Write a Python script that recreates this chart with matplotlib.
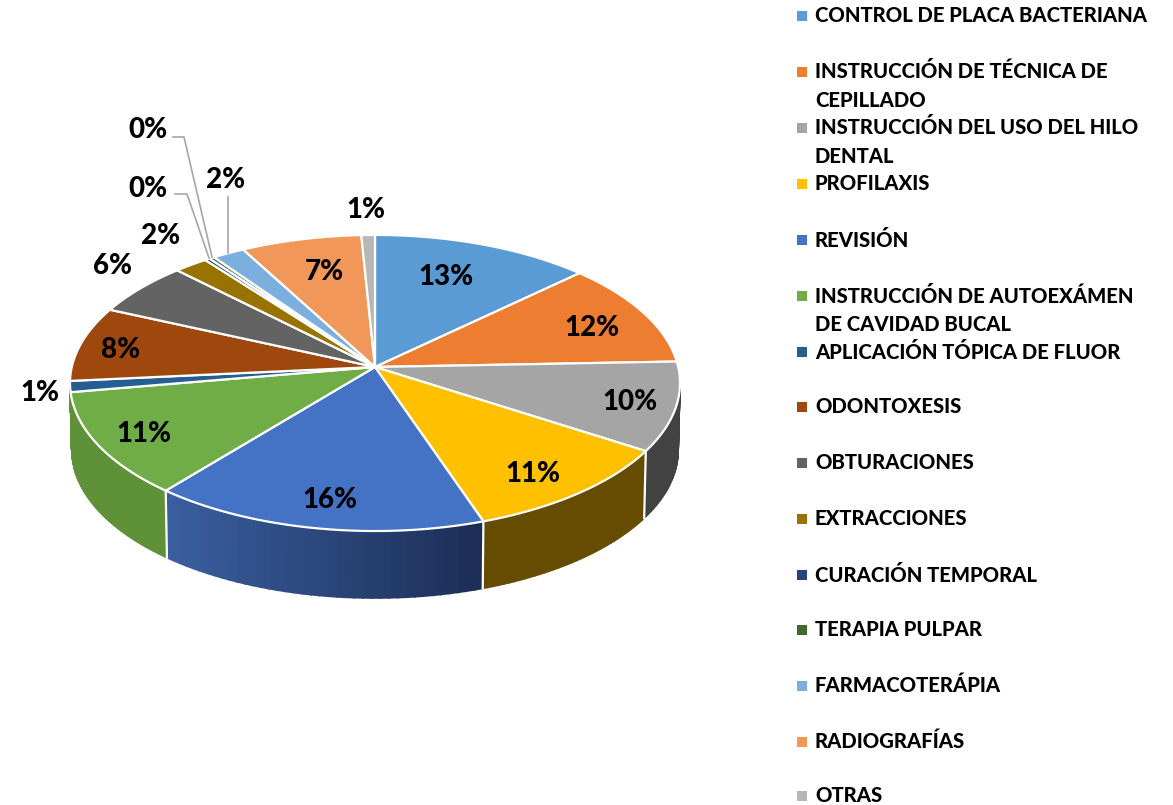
import numpy as np
import matplotlib
matplotlib.use("Agg")
import matplotlib.pyplot as plt
from matplotlib.colors import to_rgb

categories = ["CONTROL DE PLACA BACTERIANA", "INSTRUCCIÓN DE TÉCNICA DE\nCEPILLADO",
              "INSTRUCCIÓN DEL USO DEL HILO\nDENTAL", "PROFILAXIS", "REVISIÓN",
              "INSTRUCCIÓN DE AUTOEXÁMEN\nDE CAVIDAD BUCAL", "APLICACIÓN TÓPICA DE FLUOR",
              "ODONTOXESIS", "OBTURACIONES", "EXTRACCIONES", "CURACIÓN TEMPORAL",
              "TERAPIA PULPAR", "FARMACOTERÁPIA", "RADIOGRAFÍAS", "OTRAS"]
shares = [12.9, 11.5, 9.7, 10.7, 16.1, 11.4, 1.2, 8.2, 5.9, 2.0, 0.3, 0.3, 1.9, 7.1, 0.8]
colors = ["#5B9BD5", "#ED7D31", "#A5A5A5", "#FFC000", "#4472C4", "#70AD47", "#255E91",
          "#9E480E", "#636363", "#997300", "#264478", "#43682B", "#7CAFDD", "#F1975A", "#B7B7B7"]
# side wall colours, left end / right end of each slice
wall_left = {2: "#424242", 3: "#654C00", 4: "#3A5F9F", 5: "#5F9138", 6: "#5F9138"}
wall_right = {2: "#424242", 3: "#654C00", 4: "#1C2D55", 5: "#5F9138", 6: "#5F9138"}

label_x = [446, 592, 630, 533, 330, 144, 40, 121, 112, 161, 148, 148, 226, 324, 366]
label_y = [277, 328, 402, 474, 500, 434, 393, 350, 266, 236, 189, 130, 180, 272, 210]
legend_y = [16, 72, 128, 184, 240, 296, 352, 407, 463, 519, 575, 630, 686, 742, 796]

# pie geometry in pixels, k gives the perspective of the tilted disc
cx, cy = 375, 367
rx, ry = 303.2, 146.3
k = 0.108
depth = 67


def project(theta):
    u, v = np.sin(theta), np.cos(theta)
    w = 1 + k * v
    return cx + rx * u / w, cy - ry * v / w


fig = plt.figure(figsize=(11.73, 8.05), dpi=100)
ax = fig.add_axes([0, 0, 1, 1])
ax.set_xlim(0, 1173)
ax.set_ylim(805, 0)
ax.axis("off")
plt.rcParams["font.family"] = ["Lato", "DejaVu Sans"]

edges = np.cumsum([0] + shares) / sum(shares) * 2 * np.pi
front_a, front_b = np.arccos(-k), 2 * np.pi - np.arccos(-k)

# side walls first, the top goes over them
for i in range(len(shares)):
    a = max(edges[i], front_a)
    b = min(edges[i + 1], front_b)
    if a >= b:
        continue
    steps = np.linspace(a, b, 40)
    c_left = np.array(to_rgb(wall_left[i]))
    c_right = np.array(to_rgb(wall_right[i]))
    xs, ys = project(steps)
    x_low = cx + (xs - cx) * 0.994
    for j in range(len(steps) - 1):
        t = (xs[j] + xs[j + 1]) / 2
        f = (t - xs.min()) / max(xs.max() - xs.min(), 1)
        col = c_left * (1 - f) + c_right * f
        ax.fill([xs[j], xs[j + 1], x_low[j + 1], x_low[j]],
                [ys[j], ys[j + 1], ys[j + 1] + depth, ys[j] + depth],
                color=col, lw=1.2, zorder=1)

for i in range(2, 5):
    x0, y0 = project(edges[i + 1])
    ax.plot([x0, cx + (x0 - cx) * 0.994], [y0, y0 + depth], color="white", lw=1.6, zorder=2)

for i, share in enumerate(shares):
    steps = np.linspace(edges[i], edges[i + 1], 80)
    xs, ys = project(steps)
    ax.fill(np.r_[cx, xs], np.r_[cy, ys], facecolor=colors[i], edgecolor="white", lw=1.6,
            joinstyle="round", zorder=3)

# leader lines for the small slices
ax.plot([173, 184, 212], [137, 137, 257], color="#A6A6A6", lw=1.2, zorder=4)
ax.plot([175, 187, 209], [194, 194, 258], color="#A6A6A6", lw=1.2, zorder=4)
ax.plot([227.5, 227.5], [197, 253], color="#A6A6A6", lw=1.2, zorder=4)

for x, y, share in zip(label_x, label_y, shares):
    ax.text(x, y, f"{round(share)}%", ha="center", va="center", fontsize=20, fontweight=900,
            color="black", zorder=5)

for name, y, col in zip(categories, legend_y, colors):
    ax.scatter([802], [y], marker="s", s=50, color=col, linewidths=0, zorder=5)
    ax.text(815, y - 10.5, name, ha="left", va="top", fontsize=14.6, fontweight=900, color="black",
            linespacing=1.6, zorder=5)

fig.savefig("out.png", dpi=100)
